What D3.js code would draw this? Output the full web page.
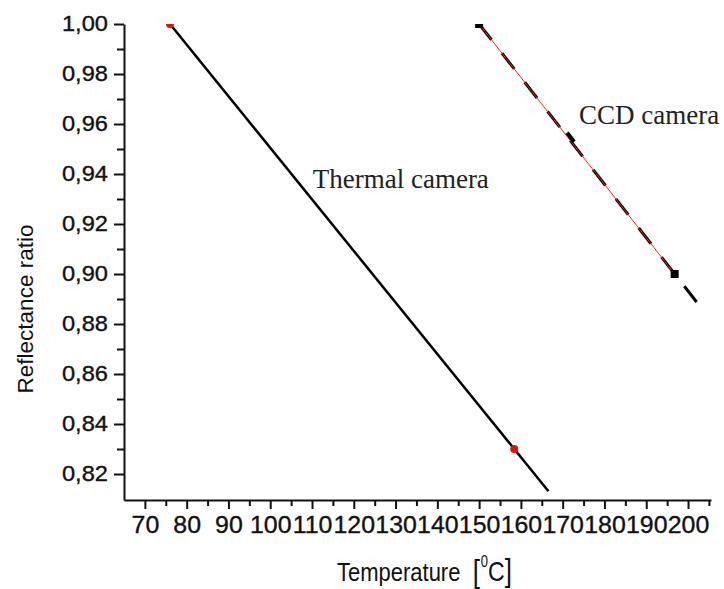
<!DOCTYPE html>
<html>
<head>
<meta charset="utf-8">
<script src="https://cdn.jsdelivr.net/npm/d3@7"></script>
<style>
  html, body { margin: 0; padding: 0; background: #fff; }
  svg { display: block; }
</style>
</head>
<body>
<svg id="chart" width="724" height="589"></svg>
<script>
// thermal camera: measured points and fitted line
const thermalX = [76, 158.4];
const thermalY = [1.00, 0.83];
const thermalFitX = [76, 166.6];
const thermalFitY = [1.00, 0.8131];

// CCD camera: measured points, joining line and fitted (dashed) line
const ccdX = [150, 196.8];
const ccdY = [1.00, 0.90];
const ccdFitX = [150, 202.2];
const ccdFitY = [1.00, 0.8885];

// axis ticks
const xTicks = [70, 80, 90, 100, 110, 120, 130, 140, 150, 160, 170, 180, 190, 200];
const xMinor = [75, 85, 95, 105, 115, 125, 135, 145, 155, 165, 175, 185, 195, 205];
const yTicks = [0.82, 0.84, 0.86, 0.88, 0.90, 0.92, 0.94, 0.96, 0.98, 1.00];
const yMinor = [0.83, 0.85, 0.87, 0.89, 0.91, 0.93, 0.95, 0.97, 0.99];

// annotations
const labelText = ["Thermal camera", "CCD camera"];
const labelAtX = [107.3, 172];
const labelAtY = [0.9355, 0.9545];

(function () {
  const svg = d3.select("#chart");
  const margin = { top: 24, left: 124, right: 13, bottom: 89 };
  const width = 724, height = 589;

  const x = d3.scaleLinear().domain([65, 205.5]).range([margin.left, width - margin.right]);
  const y = d3.scaleLinear().domain([0.8096, 1.0]).range([height - margin.bottom, margin.top]);

  svg.append("defs").append("clipPath").attr("id", "plot-clip")
    .append("rect")
    .attr("x", margin.left).attr("y", margin.top)
    .attr("width", width - margin.right - margin.left)
    .attr("height", height - margin.bottom - margin.top);

  const commaFmt = d => d3.format(".2f")(d).replace(".", ",");

  // minor ticks
  svg.append("g")
    .attr("transform", `translate(0,${height - margin.bottom})`)
    .call(d3.axisBottom(x).tickValues(xMinor).tickSize(6).tickFormat(""))
    .call(g => g.select(".domain").remove());
  svg.append("g")
    .attr("transform", `translate(${margin.left},0)`)
    .call(d3.axisLeft(y).tickValues(yMinor).tickSize(7).tickFormat(""))
    .call(g => g.select(".domain").remove());

  // major axes
  const xAxis = svg.append("g")
    .attr("transform", `translate(0,${height - margin.bottom})`)
    .call(d3.axisBottom(x).tickValues(xTicks).tickSize(9).tickSizeOuter(0));
  xAxis.selectAll(".tick text")
    .attr("y", 16)
    .attr("x", 0)
    .attr("transform", "scale(1.06,1)")
    .attr("font-size", 23.5);

  const yAxis = svg.append("g")
    .attr("transform", `translate(${margin.left},0)`)
    .call(d3.axisLeft(y).tickValues(yTicks).tickSize(10).tickSizeOuter(0).tickFormat(commaFmt));
  yAxis.selectAll(".tick text")
    .attr("x", 0)
    .attr("transform", "translate(-16,0) scale(1.1,1)")
    .attr("font-size", 21.5);

  svg.selectAll(".domain, .tick line").attr("stroke", "#111").attr("stroke-width", 2);
  svg.selectAll(".tick text")
    .attr("font-family", "'Liberation Sans', Arial, sans-serif")
    .attr("fill", "#111")
    .attr("stroke", "#111")
    .attr("stroke-width", 0.35);

  const plot = svg.append("g").attr("clip-path", "url(#plot-clip)");
  const line = d3.line().x(d => x(d[0])).y(d => y(d[1]));

  // thermal fit
  plot.append("path")
    .datum(d3.zip(thermalFitX, thermalFitY))
    .attr("d", line)
    .attr("fill", "none")
    .attr("stroke", "#000")
    .attr("stroke-width", 2.5);

  plot.selectAll("circle.thermal")
    .data(d3.zip(thermalX, thermalY))
    .enter().append("circle")
    .attr("class", "thermal")
    .attr("cx", d => x(d[0]))
    .attr("cy", d => y(d[1]))
    .attr("r", 4)
    .attr("fill", "#e31010");

  // CCD fit (dashed) and joining red line
  plot.append("path")
    .datum(d3.zip(ccdFitX, ccdFitY))
    .attr("d", line)
    .attr("fill", "none")
    .attr("stroke", "#000")
    .attr("stroke-width", 3)
    .attr("stroke-dasharray", "20,17");

  plot.append("path")
    .datum(d3.zip(ccdX, ccdY))
    .attr("d", line)
    .attr("fill", "none")
    .attr("stroke", "#ff2020")
    .attr("stroke-width", 1);

  plot.selectAll("rect.ccd")
    .data(d3.zip(ccdX, ccdY))
    .enter().append("rect")
    .attr("class", "ccd")
    .attr("x", d => x(d[0]) - 4)
    .attr("y", d => y(d[1]) - 4)
    .attr("width", 8)
    .attr("height", 8)
    .attr("fill", "#000");

  // annotation marks and labels
  const labelOffsets = [[12, 3], [8, -14]];
  labelText.forEach((t, i) => {
    const px = x(labelAtX[i]), py = y(labelAtY[i]);
    svg.append("line")
      .attr("x1", px - 4).attr("y1", py - 5)
      .attr("x2", px + 3).attr("y2", py + 4)
      .attr("stroke", "#000")
      .attr("stroke-width", i === 0 ? 1.5 : 4);
    svg.append("text")
      .attr("x", px + labelOffsets[i][0])
      .attr("y", py + labelOffsets[i][1])
      .attr("font-family", "'Liberation Serif', 'Times New Roman', serif")
      .attr("font-size", 27)
      .attr("fill", "#222")
      .text(t);
  });

  // axis titles
  svg.append("text")
    .attr("transform", "translate(33,309) rotate(-90)")
    .attr("text-anchor", "middle")
    .attr("font-family", "'Liberation Sans', Arial, sans-serif")
    .attr("font-size", 22.5)
    .attr("fill", "#111")
    .text("Reflectance ratio");

  const xt = svg.append("text")
    .attr("transform", "translate(337,581) scale(1,1.2)")
    .attr("font-family", "'Liberation Sans', Arial, sans-serif")
    .attr("font-size", 22)
    .attr("fill", "#111");
  xt.append("tspan").text("Temperature\u00a0\u00a0");
  xt.append("tspan").attr("font-size", 26).attr("dy", 1).text("[");
  xt.append("tspan").attr("font-size", 13).attr("dx", 1).attr("dy", -13).text("0");
  xt.append("tspan").attr("font-size", 23).attr("dy", 12).text("C");
  xt.append("tspan").attr("font-size", 26).text("]");
})();
</script>
</body>
</html>
